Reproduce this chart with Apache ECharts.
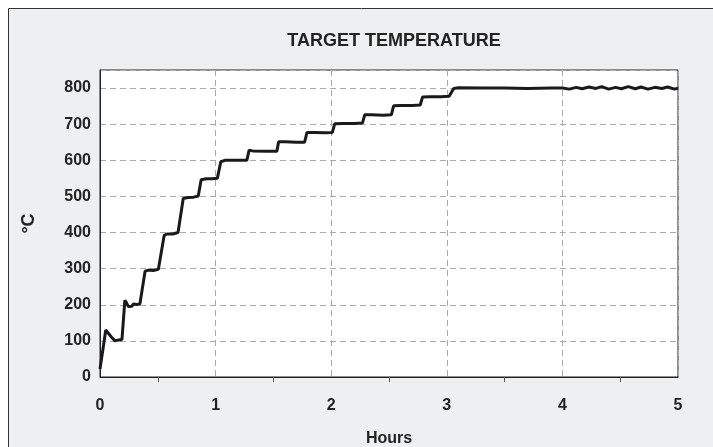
<!DOCTYPE html>
<html><head><meta charset="utf-8">
<script src="https://cdn.jsdelivr.net/npm/echarts@6/dist/echarts.min.js"></script>
<style>html,body{margin:0;padding:0;background:#fff}#c{width:713px;height:447px}</style>
</head><body><div id="c"></div>
<script>
const titleText = 'TARGET TEMPERATURE';
const xName = 'Hours';
const yName = '°C';
const hours = [0.00,0.015,0.05,0.065,0.10,0.13,0.15,0.165,0.19,0.215,0.23,0.245,0.26,0.275,0.29,0.305,0.32,0.345,
  0.39,0.42,0.46,0.505,0.555,0.58,0.63,0.675,0.72,0.76,0.81,0.85,0.875,0.92,0.97,1.015,1.045,1.08,1.18,1.27,
  1.29,1.32,1.45,1.53,1.545,1.6,1.7,1.77,1.79,1.85,1.95,2.01,2.03,2.1,2.2,2.27,2.29,2.35,2.45,2.52,2.54,2.6,2.7,2.77,
  2.79,2.85,2.95,3.02,3.06,3.1,3.3,3.5,3.7,3.9,4.0,4.06,4.12,4.17,4.23,4.29,4.34,4.4,4.46,4.51,4.57,4.63,
  4.68,4.74,4.8,4.86,4.91,4.97,5.0];
const temps = [22,25,130,128,110,100,102,98,104,212,205,195,200,196,202,197,201,202,
  293,296,295,298,392,396,396,400,494,497,498,501,546,549,549,550,596,600,600,600,
  628,626,625,625,651,651,650,650,677,677,676,677,701,702,702,703,726,726,725,726,751,752,752,753,
  775,776,776,777,799,801,800,800,799,800,800,797,802,798,803,799,804,797,802,798,804,798,
  803,797,802,799,803,797,800];
const data = hours.map((h,i)=>[h,temps[i]]);
const F = "'Liberation Sans',Arial,sans-serif";
const chart = echarts.init(document.getElementById('c'));
chart.setOption({
  animation:false,
  graphic:[{type:'rect',z:-10,shape:{x:8.5,y:8.5,width:710,height:460},style:{fill:'#eeeff1',stroke:'#333',lineWidth:1}}],
  title:{text:titleText,left:389,top:27,textAlign:'center',textStyle:{fontFamily:F,fontSize:18,fontWeight:'bold',color:'#222'}},
  grid:{left:100,top:70,right:35,bottom:70,show:true,backgroundColor:'#fff',borderColor:'#222',borderWidth:1,containLabel:false,outerBoundsMode:'none'},
  xAxis:{type:'value',min:0,max:5,interval:1,name:xName,nameLocation:'middle',nameGap:54,
    nameTextStyle:{fontFamily:F,fontSize:16,fontWeight:'bold',color:'#222'},
    axisLine:{lineStyle:{color:'#222'}},axisTick:{show:false},
    minorTick:{show:true,splitNumber:2,length:5,lineStyle:{color:'#555'}},
    axisLabel:{fontFamily:F,fontSize:16,fontWeight:'bold',color:'#222',margin:21},
    splitLine:{show:true,lineStyle:{color:'#aaa',type:[6,4]}}},
  yAxis:{type:'value',min:0,max:850,interval:100,name:yName,nameLocation:'middle',nameGap:62,
    nameTextStyle:{fontFamily:F,fontSize:18,fontWeight:'bold',color:'#222'},
    axisLine:{show:true,lineStyle:{color:'#222'}},axisTick:{show:false},
    axisLabel:{fontFamily:F,fontSize:16,fontWeight:'bold',color:'#222',margin:9,
      formatter:v=>v%100===0&&v<=800?String(v):''},
    splitLine:{show:true,lineStyle:{color:'#aaa',type:[6,4]}}},
  series:[{type:'line',data:data,showSymbol:false,lineStyle:{color:'#1a1a1a',width:3}}]
});
</script></body></html>
